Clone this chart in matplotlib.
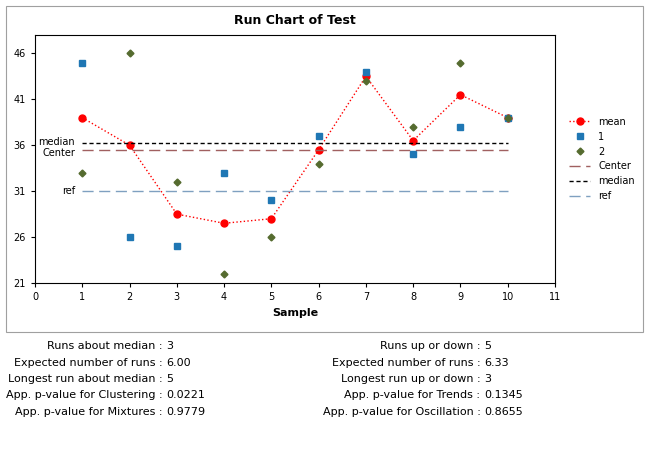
import matplotlib
matplotlib.use("Agg")
import matplotlib.pyplot as plt
from matplotlib.patches import Rectangle

samples = [1,2,3,4,5,6,7,8,9,10]
s1 = [45,26,25,33,30,37,44,35,38,39]
s2 = [33,46,32,22,26,34,43,38,45,39]
mean = [(a+b)/2 for a,b in zip(s1,s2)]
center = sum(mean)/len(mean)
median = 36.25
ref = 31

fig = plt.figure(figsize=(6.5,4.49), dpi=100)
fig.patches.append(Rectangle((6/650,1-332/449),637/650,326/449,transform=fig.transFigure,fill=False,ec='#a0a0a0',lw=0.8))
ax = fig.add_axes([35/650, 1-283/449, 520/650, 248/449])
ax.plot(samples, mean, ':', color='red', marker='o', ms=5, lw=1, label='mean')
ax.plot(samples, s1, 's', color='#1f77b4', ms=4.5, ls='none', label='1')
ax.plot(samples, s2, 'D', color='#556b2f', ms=3.5, ls='none', label='2')
ax.axhline(center, xmin=1/11, xmax=10/11, color='#a06060', ls=(0,(8,4)), lw=1, label='Center')
ax.axhline(median, xmin=1/11, xmax=10/11, color='black', ls=(0,(3,2)), lw=1, label='median')
ax.axhline(ref, xmin=1/11, xmax=10/11, color='#7fa0c0', ls=(0,(8,4)), lw=1, label='ref')
ax.text(0.85, median+0.1, 'median', ha='right', va='center', fontsize=7)
ax.text(0.85, center-0.3, 'Center', ha='right', va='center', fontsize=7)
ax.text(0.85, ref, 'ref', ha='right', va='center', fontsize=7)
ax.set_xlim(0,11); ax.set_ylim(21,48)
ax.set_xticks(range(0,12)); ax.set_yticks([21,26,31,36,41,46])
ax.tick_params(labelsize=7, length=3)
ax.set_xlabel('Sample', fontsize=8, fontweight='bold')
ax.set_title('Run Chart of Test', fontsize=9, fontweight='bold', pad=8)
ax.legend(loc='center left', bbox_to_anchor=(1.01,0.5), fontsize=7, frameon=False, handlelength=2.2)

left = [("Runs about median","3"),("Expected number of runs","6.00"),("Longest run about median","5"),
        ("App. p-value for Clustering","0.0221"),("App. p-value for Mixtures","0.9779")]
right = [("Runs up or down","5"),("Expected number of runs","6.33"),("Longest run up or down","3"),
         ("App. p-value for Trends","0.1345"),("App. p-value for Oscillation","0.8655")]
for i,(a,b) in enumerate(left):
    y = 1-(346+i*16.5)/449
    fig.text(166/650, y, a+" : ", ha='right', va='center', fontsize=8)
    fig.text(166/650, y, b, ha='left', va='center', fontsize=8)
for i,(a,b) in enumerate(right):
    y = 1-(346+i*16.5)/449
    fig.text(484/650, y, a+" : ", ha='right', va='center', fontsize=8)
    fig.text(484/650, y, b, ha='left', va='center', fontsize=8)
fig.savefig('out.png', dpi=100)
